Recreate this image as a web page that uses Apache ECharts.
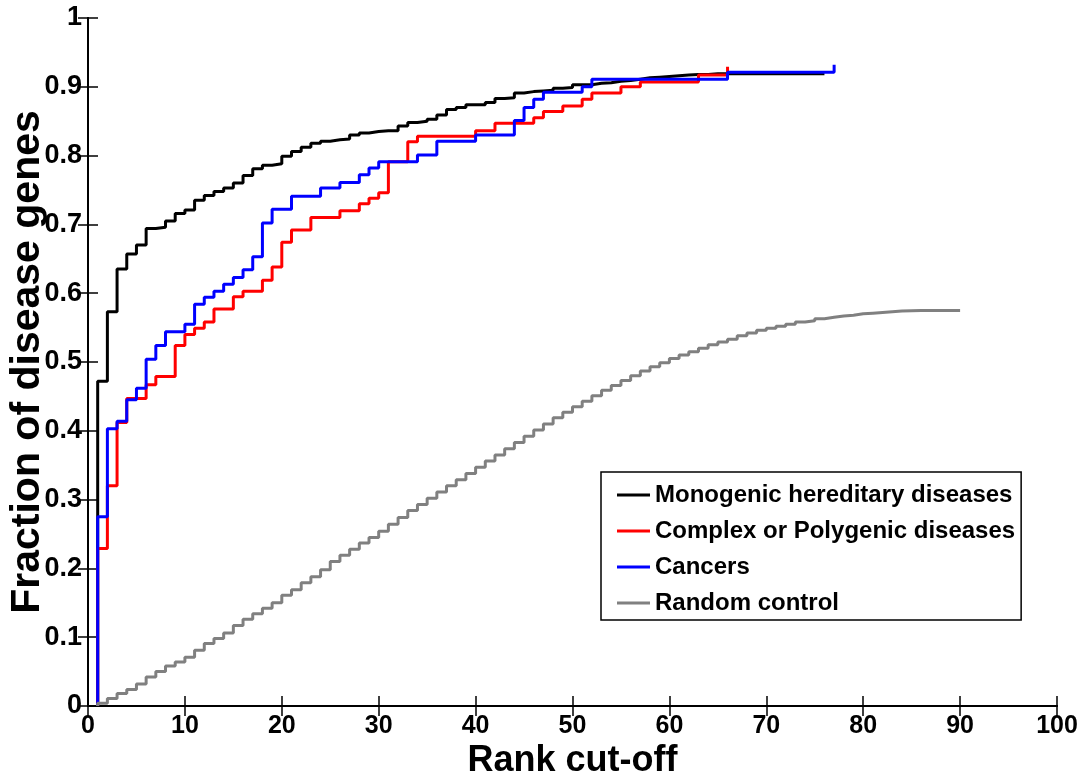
<!DOCTYPE html>
<html>
<head>
<meta charset="utf-8">
<script src="https://cdn.jsdelivr.net/npm/echarts@6/dist/echarts.min.js"></script>
<style>
html,body{margin:0;padding:0;background:#fff;}
#chart{width:1083px;height:777px;}
</style>
</head>
<body>
<div id="chart"></div>
<script>
// Fraction of disease genes at each rank cut-off (rank = index + 1)
const seriesNames = ['Monogenic hereditary diseases', 'Complex or Polygenic diseases', 'Cancers', 'Random control'];

const monogenic = [
  0.472, 0.573, 0.635, 0.657, 0.670, 0.694, 0.696, 0.705, 0.716, 0.721,
  0.735, 0.742, 0.748, 0.753, 0.760, 0.771, 0.781, 0.786, 0.788, 0.799,
  0.806, 0.812, 0.818, 0.821, 0.823, 0.824, 0.830, 0.833, 0.835, 0.836,
  0.836, 0.843, 0.848, 0.850, 0.853, 0.859, 0.867, 0.870, 0.874, 0.874,
  0.877, 0.883, 0.884, 0.891, 0.893, 0.894, 0.895, 0.898, 0.899, 0.903,
  0.903, 0.905, 0.906, 0.908, 0.909, 0.911, 0.913, 0.914, 0.915, 0.916,
  0.917, 0.918, 0.918, 0.919, 0.919, 0.919, 0.919, 0.919, 0.919, 0.919,
  0.919, 0.919, 0.919, 0.919, 0.919, 0.919
];

const complexDis = [
  0.229, 0.320, 0.412, 0.447, 0.447, 0.467, 0.479, 0.479, 0.524, 0.540,
  0.549, 0.558, 0.577, 0.577, 0.595, 0.603, 0.603, 0.619, 0.638, 0.674,
  0.692, 0.692, 0.710, 0.710, 0.710, 0.720, 0.720, 0.730, 0.738, 0.746,
  0.791, 0.791, 0.820, 0.828, 0.828, 0.828, 0.828, 0.828, 0.828, 0.836,
  0.836, 0.847, 0.847, 0.847, 0.847, 0.855, 0.864, 0.864, 0.872, 0.872,
  0.882, 0.891, 0.891, 0.891, 0.900, 0.900, 0.907, 0.907, 0.907, 0.907,
  0.907, 0.907, 0.917, 0.917, 0.917, 0.929
];

const cancers = [
  0.275, 0.403, 0.414, 0.445, 0.462, 0.504, 0.524, 0.544, 0.544, 0.555,
  0.584, 0.594, 0.603, 0.613, 0.623, 0.634, 0.653, 0.702, 0.722, 0.722,
  0.741, 0.741, 0.741, 0.753, 0.753, 0.761, 0.761, 0.772, 0.782, 0.791,
  0.791, 0.791, 0.791, 0.801, 0.801, 0.821, 0.821, 0.821, 0.821, 0.830,
  0.830, 0.830, 0.830, 0.851, 0.870, 0.882, 0.892, 0.892, 0.892, 0.892,
  0.900, 0.911, 0.911, 0.911, 0.911, 0.911, 0.911, 0.911, 0.911, 0.911,
  0.911, 0.911, 0.911, 0.911, 0.911, 0.921, 0.921, 0.921, 0.921, 0.921,
  0.921, 0.921, 0.921, 0.921, 0.921, 0.921, 0.932
];

const randomControl = [
  0.004, 0.011, 0.018, 0.024, 0.032, 0.042, 0.050, 0.058, 0.064, 0.071,
  0.081, 0.091, 0.098, 0.106, 0.117, 0.126, 0.134, 0.142, 0.150, 0.161,
  0.169, 0.179, 0.188, 0.198, 0.210, 0.219, 0.228, 0.237, 0.245, 0.254,
  0.264, 0.274, 0.284, 0.293, 0.302, 0.311, 0.320, 0.329, 0.338, 0.347,
  0.356, 0.365, 0.374, 0.383, 0.392, 0.401, 0.410, 0.419, 0.427, 0.435,
  0.443, 0.451, 0.459, 0.466, 0.473, 0.480, 0.487, 0.493, 0.499, 0.505,
  0.510, 0.515, 0.520, 0.525, 0.529, 0.533, 0.538, 0.542, 0.546, 0.549,
  0.552, 0.555, 0.558, 0.560, 0.563, 0.565, 0.567, 0.568, 0.570, 0.571,
  0.572, 0.573, 0.574, 0.5745, 0.575, 0.575, 0.575, 0.575, 0.575, 0.575
];

const xTicks = [0, 10, 20, 30, 40, 50, 60, 70, 80, 90, 100];
const yTicks = [0, 0.1, 0.2, 0.3, 0.4, 0.5, 0.6, 0.7, 0.8, 0.9, 1];

const colors = ['#000000', '#ff0000', '#0000ff', '#808080'];
const allValues = [monogenic, complexDis, cancers, randomControl];

// stairs: fraction is 0 before the first rank, then steps at each rank
function stairs(vals) {
  const d = [[1, 0]];
  vals.forEach((v, i) => d.push([i + 1, v]));
  return d;
}

const FONT = "'Liberation Sans', Arial, Helvetica, sans-serif";

const chart = echarts.init(document.getElementById('chart'), null, {renderer: 'canvas'});

const axisLineStyle = {show: true, lineStyle: {color: '#000', width: 2}};
const tickStyle = {show: true, inside: true, length: 10, lineStyle: {color: '#000', width: 1.5}};

const option = {
  animation: false,
  backgroundColor: '#fff',
  grid: {left: 88, right: 26, top: 18, bottom: 71, containLabel: false, outerBoundsMode: 'none'},
  legend: {
    orient: 'vertical',
    left: 601,
    top: 472,
    data: seriesNames,
    icon: 'rect',
    itemWidth: 33,
    itemHeight: 3,
    itemGap: 12,
    padding: [11, 6, 5, 16],
    backgroundColor: '#fff',
    borderColor: '#000',
    borderWidth: 1.5,
    borderRadius: 0,
    textStyle: {fontFamily: FONT, fontWeight: 'bold', fontSize: 24, color: '#000', lineHeight: 24, padding: [0, 0, 0, 0]}
  },
  xAxis: [
    {
      type: 'value', min: xTicks[0], max: xTicks[xTicks.length - 1], interval: 10,
      position: 'bottom',
      axisLine: axisLineStyle, axisTick: tickStyle, splitLine: {show: false},
      axisLabel: {color: '#000', fontFamily: FONT, fontWeight: 'bold', fontSize: 25, margin: 8},
      name: 'Rank cut-off', nameLocation: 'middle', nameGap: 37, nameMoveOverlap: false,
      nameTextStyle: {color: '#000', fontFamily: FONT, fontWeight: 'bold', fontSize: 36}
    },
    {
      type: 'value', min: xTicks[0], max: xTicks[xTicks.length - 1], interval: 10,
      position: 'top',
      axisLine: axisLineStyle, axisTick: tickStyle, splitLine: {show: false},
      axisLabel: {show: false}
    }
  ],
  yAxis: [
    {
      type: 'value', min: yTicks[0], max: yTicks[yTicks.length - 1], interval: 0.1,
      position: 'left',
      axisLine: axisLineStyle, axisTick: tickStyle, splitLine: {show: false},
      axisLabel: {
        color: '#000', fontFamily: FONT, fontWeight: 'bold', fontSize: 27, margin: 6,
        formatter: v => String(Math.round(v * 10) / 10)
      },
      name: 'Fraction of disease genes', nameLocation: 'middle', nameGap: 40, nameMoveOverlap: false,
      nameTextStyle: {color: '#000', fontFamily: FONT, fontWeight: 'bold', fontSize: 41}
    },
    {
      type: 'value', min: yTicks[0], max: yTicks[yTicks.length - 1], interval: 0.1,
      position: 'right',
      axisLine: axisLineStyle, axisTick: tickStyle, splitLine: {show: false},
      axisLabel: {show: false}
    }
  ],
  series: allValues.map((vals, i) => ({
    name: seriesNames[i],
    type: 'line',
    step: 'end',
    xAxisIndex: 0,
    yAxisIndex: 0,
    showSymbol: false,
    symbol: 'none',
    data: stairs(vals),
    lineStyle: {color: colors[i], width: 3},
    itemStyle: {color: colors[i]},
    z: 2 + i
  }))
};

chart.setOption(option);
</script>
</body>
</html>
